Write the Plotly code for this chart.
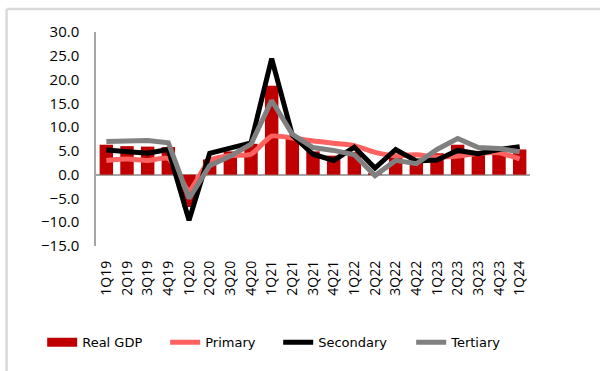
import plotly.graph_objects as go

# Quarterly year-on-year growth (%)
quarters = ["1Q19", "2Q19", "3Q19", "4Q19", "1Q20", "2Q20", "3Q20", "4Q20",
            "1Q21", "2Q21", "3Q21", "4Q21", "1Q22", "2Q22", "3Q22", "4Q22",
            "1Q23", "2Q23", "3Q23", "4Q23", "1Q24"]
real_gdp = [6.3, 6.0, 5.9, 5.8, -6.8, 3.2, 4.9, 6.5, 18.7, 7.9, 4.9,
            4.0, 4.8, 0.4, 3.9, 2.9, 4.5, 6.3, 4.9, 5.2, 5.3]
primary = [3.0, 3.3, 3.0, 3.4, -3.2, 3.0, 4.0, 4.3, 8.1, 7.7, 7.1,
           6.6, 6.1, 4.7, 4.0, 4.2, 3.7, 3.9, 4.5, 4.6, 3.3]
secondary = [5.2, 4.8, 4.5, 5.3, -9.6, 4.5, 5.7, 6.7, 24.4, 8.3, 4.3,
             3.0, 5.8, 1.4, 5.3, 2.9, 3.1, 5.1, 4.4, 5.3, 5.9]
tertiary = [7.0, 7.0, 7.2, 6.7, -5.0, 1.9, 3.9, 6.4, 15.6, 8.5, 5.7,
            5.1, 4.2, -0.2, 3.0, 2.3, 5.3, 7.6, 5.7, 5.5, 4.8]

RED = "#C00000"
SALMON = "#FF6161"
BLACK = "#000000"
GREY = "#808080"

fig = go.Figure()

fig.add_trace(go.Bar(
    x=quarters, y=real_gdp, name="Real GDP",
    marker=dict(color=RED, line=dict(width=0)),
    width=0.65, showlegend=False,
))
# legend-only entry so the Real GDP key is drawn as a wide block
fig.add_trace(go.Scatter(
    x=[None], y=[None], mode="lines", name="Real GDP",
    line=dict(color=RED, width=9), legendwidth=78,
))
fig.add_trace(go.Scatter(
    x=quarters, y=primary, mode="lines", name="Primary",
    line=dict(color=SALMON, width=5, shape="spline", smoothing=0.6),
    legendwidth=68,
))
fig.add_trace(go.Scatter(
    x=quarters, y=secondary, mode="lines", name="Secondary",
    line=dict(color=BLACK, width=5), legendwidth=88,
))
fig.add_trace(go.Scatter(
    x=quarters, y=tertiary, mode="lines", name="Tertiary",
    line=dict(color=GREY, width=5), legendwidth=60,
))

# light frame around the chart area
fig.add_shape(type="line", xref="paper", yref="paper",
              x0=-0.206, x1=-0.206, y0=1.1075, y1=-1.0,
              line=dict(color="#d9d9d9", width=2.5))
fig.add_shape(type="line", xref="paper", yref="paper",
              x0=-0.206, x1=1.5, y0=1.1075, y1=1.1075,
              line=dict(color="#d9d9d9", width=2.5))

fig.update_layout(
    width=600, height=371,
    margin=dict(l=96, r=70, t=32, b=125),
    paper_bgcolor="white", plot_bgcolor="white",
    bargap=0.35,
    showlegend=True,
    legend=dict(
        orientation="h", x=-0.124, xanchor="left",
        y=-0.45, yanchor="middle",
        font=dict(family="DejaVu Sans", size=13, color="black"),
        bgcolor="rgba(0,0,0,0)", itemclick=False,
    ),
    xaxis=dict(
        type="category", range=[-0.5, 20.5],
        showline=False, showgrid=False, zeroline=False,
        tickangle=-90, ticks="",
        tickfont=dict(family="Open Sans", size=14, color="black"),
        ticklabelstandoff=11,
    ),
    yaxis=dict(
        range=[-15, 30], dtick=5, tickformat=".1f",
        showgrid=False, showline=True, linecolor="#a6a6a6", linewidth=1.5,
        zeroline=True, zerolinecolor="#a6a6a6", zerolinewidth=2,
        ticks="",
        tickfont=dict(family="Open Sans", size=15, color="black"),
        ticklabelstandoff=12,
    ),
)

fig.write_html("out.html")
